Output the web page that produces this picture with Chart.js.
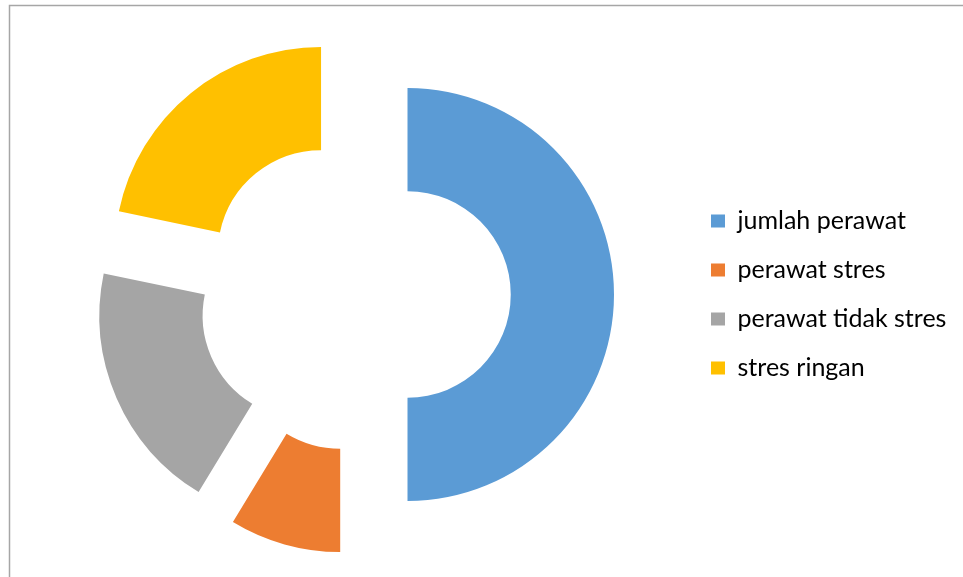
<!DOCTYPE html>
<html>
<head>
<meta charset="utf-8">
<script src="https://cdn.jsdelivr.net/npm/chart.js@4/dist/chart.umd.min.js"></script>
<style>
  html, body { margin: 0; padding: 0; background: #ffffff; }
  #wrap { position: relative; width: 963px; height: 577px; }
</style>
</head>
<body>
<div id="wrap"><canvas id="c" width="963" height="577"></canvas></div>
<script>
const categories = ['jumlah perawat', 'perawat stres', 'perawat tidak stres', 'stres ringan'];
const values = [46, 8, 18, 20];
const colors = ['#5B9BD5', '#ED7D31', '#A5A5A5', '#FFC000'];

const FONT_FAMILY = 'Lato';
const FONT_SIZE = 25;
const LEGEND_PAD = 24;
const BOX_W = 14, BOX_H = 13;
const EXPLODE = 53;
const LEGEND_LEFT = 711 - LEGEND_PAD;
const PAD_LEFT = Math.round(2 * 354.3 - LEGEND_LEFT);

// measure legend width so the legend lands where wanted
const mctx = document.createElement('canvas').getContext('2d');
mctx.font = FONT_SIZE + 'px ' + FONT_FAMILY;
const maxText = Math.max(...categories.map(t => mctx.measureText(t).width));
const legendWidth = LEGEND_PAD + BOX_W + FONT_SIZE / 2 + maxText + 10;
const PAD_RIGHT = Math.max(0, 963 - LEGEND_LEFT - legendWidth);

// explode each slice outward along its bisector (same radii for all slices)
const baseDraw = Chart.ArcElement.prototype.draw;
Chart.ArcElement.prototype.draw = function (ctx) {
  const mid = (this.startAngle + this.endAngle) / 2;
  ctx.save();
  ctx.translate(Math.cos(mid) * EXPLODE, Math.sin(mid) * EXPLODE);
  baseDraw.call(this, ctx);
  ctx.restore();
};

const framePlugin = {
  id: 'frame',
  beforeDraw(chart) {
    const ctx = chart.ctx;
    ctx.save();
    ctx.strokeStyle = '#A6A6A6';
    ctx.lineWidth = 1.5;
    ctx.beginPath();
    ctx.moveTo(9.5, 577);
    ctx.lineTo(9.5, 5.5);
    ctx.lineTo(963, 5.5);
    ctx.stroke();
    ctx.restore();
  }
};

new Chart(document.getElementById('c'), {
  type: 'doughnut',
  data: {
    labels: categories,
    datasets: [{
      data: values,
      backgroundColor: colors,
      borderWidth: 0,
      hoverOffset: 0,
      clip: false
    }]
  },
  options: {
    responsive: false,
    animation: false,
    events: [],
    radius: 206.5,
    cutout: '50%',
    layout: { padding: { left: PAD_LEFT, right: PAD_RIGHT, top: 12, bottom: 0 } },
    plugins: {
      tooltip: { enabled: false },
      legend: {
        position: 'right',
        align: 'center',
        labels: {
          boxWidth: BOX_W,
          boxHeight: BOX_H,
          padding: LEGEND_PAD,
          color: '#000000',
          font: { family: FONT_FAMILY, size: FONT_SIZE }
        }
      }
    }
  },
  plugins: [framePlugin]
});
</script>
</body>
</html>
